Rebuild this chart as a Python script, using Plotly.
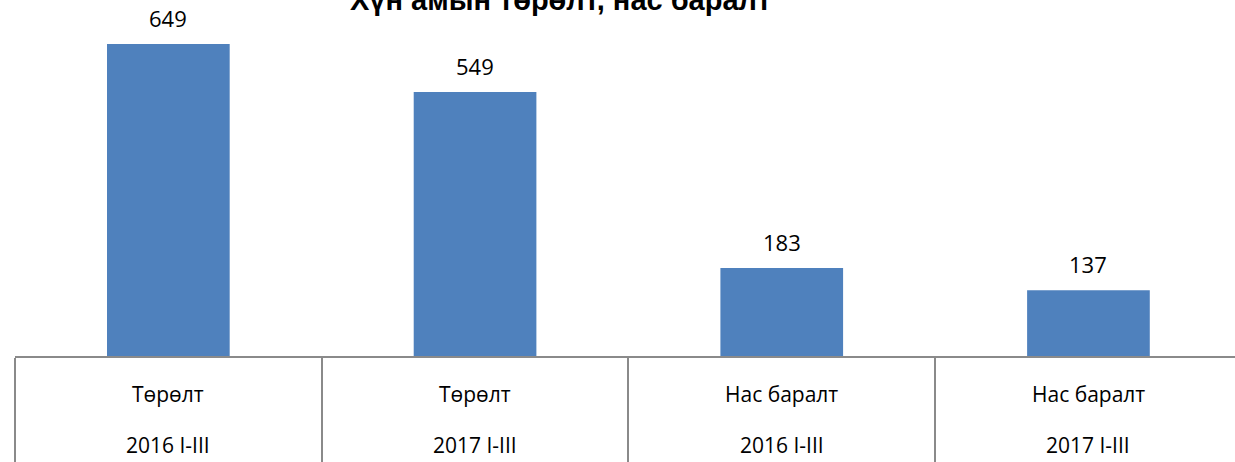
import plotly.graph_objects as go

title_text = "Хүн амын төрөлт, нас баралт"
categories = ["Төрөлт", "Төрөлт", "Нас баралт", "Нас баралт"]
periods = ["2016 I-III", "2017 I-III", "2016 I-III", "2017 I-III"]
values = [649, 549, 183, 137]

keys = [f"{c} {p}" for c, p in zip(categories, periods)]

BAR = "#4F81BD"
GRID = "#8a8a8a"
LFONT = "Open Sans"

fig = go.Figure()
fig.add_trace(go.Bar(x=keys, y=values, marker_color=BAR, width=0.4,
                     marker_line_width=0, hoverinfo="skip"))

ann = []
for k, v in zip(keys, values):
    ann.append(dict(x=k, y=v, xref="x", yref="y", text=str(v), showarrow=False,
                    yanchor="bottom", yshift=9,
                    font=dict(family=LFONT, size=22, color="#000000")))
for k, c, p in zip(keys, categories, periods):
    ann.append(dict(x=k, y=-38/356, xref="x", yref="paper", text=c, showarrow=False,
                    yanchor="middle", font=dict(family=LFONT, size=21, color="#000000")))
    ann.append(dict(x=k, y=-89/356, xref="x", yref="paper", text=p, showarrow=False,
                    yanchor="middle", font=dict(family=LFONT, size=21, color="#000000")))
ann.append(dict(x=(560-15)/1220, y=1-18/356, xref="paper", yref="paper", text=f"<b>{title_text}</b>",
                showarrow=False, yanchor="bottom", xanchor="center",
                font=dict(family="Liberation Sans", size=29, color="#000000")))

fig.update_layout(
    width=1235, height=462,
    margin=dict(l=15, r=0, t=0, b=106),
    paper_bgcolor="white", plot_bgcolor="white",
    showlegend=False,
    annotations=ann,
    bargap=0.6,
)
fig.update_xaxes(type="category", range=[-0.5, -0.5 + 1220/306.7],
                 showticklabels=False, showgrid=False, zeroline=False,
                 showline=True, linecolor=GRID, linewidth=2,
                 ticks="outside", tickson="boundaries", ticklen=106,
                 tickcolor=GRID, tickwidth=1.5)
fig.update_yaxes(range=[0, 356/0.4807], visible=False, showgrid=False, zeroline=False)

fig.write_html("out.html", config={"displayModeBar": False},
               post_script="document.body.style.margin='0';")
